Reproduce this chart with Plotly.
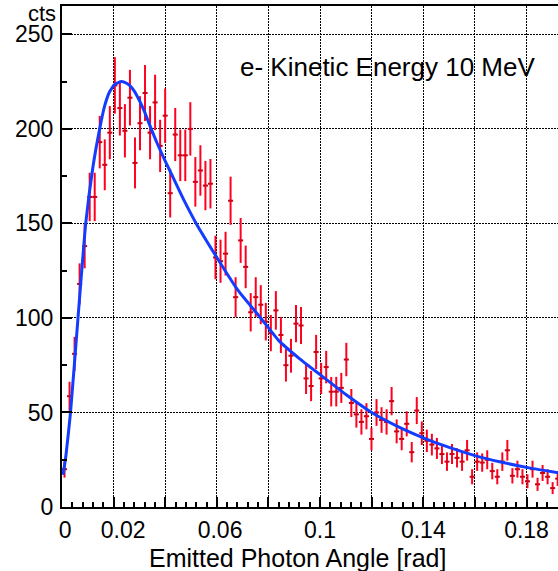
import numpy as np
import plotly.graph_objects as go

# Histogram binning (100 bins over 0..0.195 rad; only 99 visible)
BIN_WIDTH = 0.00195
COUNTS = [20, 58.6, 81, 118, 138, 164, 164, 193, 181, 198,
          223, 211, 199, 216.5, 182, 203, 219, 198, 214, 191,
          207, 166, 197, 186, 186, 200, 172, 178, 170, 171,
          132, 130, 134, 162, 111, 141, 127, 103, 111, 107,
          98, 92, 104, 91, 75, 80, 97, 96, 68, 64,
          82, 68, 74, 61, 61, 63, 78, 55, 49, 45,
          48, 36, 50, 46, 45, 56, 40, 36, 44, 29,
          51, 39, 35, 33, 31, 28, 24, 28, 26, 24,
          30, 16, 24, 23.5, 25, 19, 16, 24, 30, 16.5,
          20, 16, 13.6, 20, 12, 18, 16, 10, 15]
BIN_CENTERS = [BIN_WIDTH * (i + 0.5) for i in range(len(COUNTS))]
ERRORS = list(np.sqrt(COUNTS))

# Fit curve
FIT_X = [0.0004, 0.0015, 0.0033, 0.0062, 0.0092, 0.0120, 0.0146, 0.0165, 0.0184, 0.0205,
         0.0227, 0.0245, 0.0262, 0.028, 0.030, 0.032, 0.034, 0.037, 0.040, 0.0435,
         0.047, 0.052, 0.060, 0.068, 0.077, 0.084, 0.092, 0.100, 0.110, 0.120,
         0.131, 0.140, 0.150, 0.160, 0.170, 0.181, 0.1925]
FIT_Y = [17, 27, 50, 100, 150, 180, 200, 212, 219.5, 223.5,
         225, 224.5, 223, 220, 215, 209, 202, 192, 183, 173,
         163, 150, 132, 115, 100, 88, 78.5, 70, 59.5, 50,
         42, 36.6, 31.5, 27.2, 23.8, 20.7, 18.1]

X_TICKS = [0, 0.02, 0.04, 0.06, 0.08, 0.1, 0.12, 0.14, 0.16, 0.18]
X_TICK_TEXT = ["\u00a00", "\u00a0\u00a0\u00a00.02", "", "\u00a00.06", "", "0.1", "", "0.14", "", "0.18"]
Y_TICKS = [0, 50, 100, 150, 200, 250]

FONT = "Liberation Sans, Arial, sans-serif"
RED = "rgb(255,0,30)"
BLUE = "rgb(20,60,255)"

fig = go.Figure()
fig.add_trace(go.Scatter(
    x=BIN_CENTERS, y=COUNTS, mode="markers",
    marker=dict(size=1, color=RED),
    error_y=dict(type="data", array=ERRORS, color=RED, thickness=2, width=0),
    error_x=dict(type="constant", value=BIN_WIDTH / 2, color="rgb(200,0,20)", thickness=2, width=0),
    showlegend=False, cliponaxis=True,
))
fig.add_trace(go.Scatter(
    x=FIT_X, y=FIT_Y, mode="lines",
    line=dict(color=BLUE, width=3, shape="spline", smoothing=0.5),
    showlegend=False,
))

fig.update_layout(
    width=558, height=571,
    margin=dict(l=62, r=0, t=6, b=64),
    paper_bgcolor="white", plot_bgcolor="white",
    font=dict(family=FONT, color="black"),
    xaxis=dict(
        range=[0, 0.1922], tickmode="array", tickvals=X_TICKS, ticktext=X_TICK_TEXT,
        ticks="inside", ticklen=10, tickwidth=1.5, tickcolor="black",
        showline=True, linecolor="black", linewidth=2, mirror=True,
        showgrid=True, gridcolor="black", gridwidth=1, griddash="2px,1px",
        zeroline=False, tickfont=dict(size=23, family=FONT), ticklabelstandoff=1,
        minor=dict(tickmode="linear", tick0=0, dtick=0.004, ticks="inside", ticklen=5,
                   tickwidth=1.5, tickcolor="black", showgrid=False),
    ),
    yaxis=dict(
        range=[0, 265], tickmode="array", tickvals=Y_TICKS,
        ticks="inside", ticklen=10, tickwidth=1.5, tickcolor="black",
        showline=True, linecolor="black", linewidth=2, mirror=False,
        showgrid=True, gridcolor="black", gridwidth=1, griddash="2px,1px",
        zeroline=False, tickfont=dict(size=23, family=FONT), ticklabelstandoff=2,
        minor=dict(tickmode="linear", tick0=0, dtick=25, ticks="inside", ticklen=5,
                   tickwidth=1.5, tickcolor="black", showgrid=False),
    ),
    annotations=[
        dict(text="Emitted Photon Angle [rad]", xref="paper", yref="paper",
             x=0.4748, y=-0.102, xanchor="center", yanchor="middle",
             showarrow=False, font=dict(size=25, family=FONT, color="black")),
        dict(text="cts", xref="paper", yref="paper",
             x=-0.008, y=0.986, xanchor="right", yanchor="middle",
             showarrow=False, font=dict(size=22, family=FONT, color="black")),
        dict(text="e- Kinetic Energy 10 MeV", xref="paper", yref="paper",
             x=0.3548, y=0.879, xanchor="left", yanchor="middle",
             showarrow=False, font=dict(size=26, family=FONT, color="black"),
             bgcolor="rgba(0,0,0,0)"),
    ],
)

fig.write_html("out.html")
